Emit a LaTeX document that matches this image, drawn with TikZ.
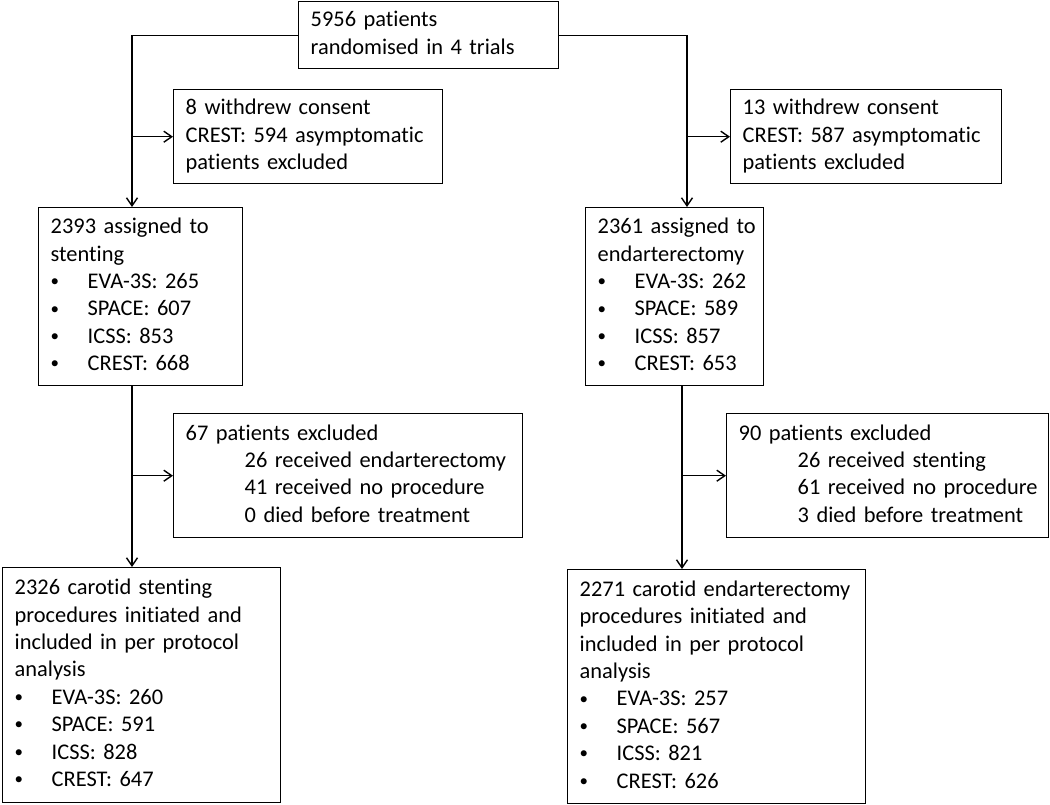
\documentclass[tikz,border=0pt]{standalone}
\usepackage{fontspec}
\setmainfont{Carlito}[Ligatures=NoCommon]
\usetikzlibrary{arrows.meta}

\newcommand{\boxlines}[1]{\begin{tabular}{@{}l@{}}#1\end{tabular}}
\newcommand{\bitem}[1]{\makebox[18.5pt][l]{\raisebox{0.9pt}{\fontsize{8.5}{8.5}\selectfont\textbullet}}#1}
\newcommand{\subline}{\hspace*{29.5pt}}

\begin{document}
\begin{tikzpicture}[x=0.5pt, y=-0.5pt,
  box/.style={draw, line width=0.7pt, anchor=north west, align=left,
    inner xsep=6pt, inner ysep=0pt, font=\fontsize{11.2}{13.7}\selectfont},
  arr/.style={-{Straight Barb[length=4pt, width=5.5pt]}, line width=0.7pt}]
  \useasboundingbox (0,0) rectangle (1050,804);

  \node[box, text width=118pt, minimum height=33.5pt] (rand) at (298,1)
    {\boxlines{5956 patients\\randomised in 4 trials}};
  \node[box, text width=122.5pt, minimum height=47pt] (wl) at (173,89)
    {\boxlines{8 withdrew consent\\CREST: 594 asymptomatic\\patients excluded}};
  \node[box, text width=123.5pt, minimum height=47pt] (wr) at (730,89)
    {\boxlines{13 withdrew consent\\CREST: 587 asymptomatic\\patients excluded}};

  \node[box, text width=90pt, minimum height=89pt] (sten) at (38,207)
    {\boxlines{2393 assigned to\\stenting\\\bitem{EVA-3S: 265}\\\bitem{SPACE: 607}\\
     \bitem{ICSS: 853}\\\bitem{CREST: 668}}};
  \node[box, text width=77pt, minimum height=89pt] (endo) at (585,207)
    {\boxlines{2361 assigned to\\endarterectomy\\\bitem{EVA-3S: 262}\\\bitem{SPACE: 589}\\
     \bitem{ICSS: 857}\\\bitem{CREST: 653}}};

  \node[box, text width=162.5pt, minimum height=62pt] (xl) at (173,413)
    {\boxlines{67 patients excluded\\\subline 26 received endarterectomy\\
     \subline 41 received no procedure\\\subline 0 died before treatment}};
  \node[box, text width=149pt, minimum height=62pt] (xr) at (726,413)
    {\boxlines{90 patients excluded\\\subline 26 received stenting\\
     \subline 61 received no procedure\\\subline 3 died before treatment}};

  \node[box, text width=127pt, minimum height=117.5pt] (cs) at (2,567)
    {\boxlines{2326 carotid stenting\\procedures initiated and\\included in per protocol\\analysis\\
     \bitem{EVA-3S: 260}\\\bitem{SPACE: 591}\\\bitem{ICSS: 828}\\\bitem{CREST: 647}}};
  \node[box, text width=137pt, minimum height=117pt] (ce) at (567,569)
    {\boxlines{2271 carotid endarterectomy\\procedures initiated and\\included in per protocol\\analysis\\
     \bitem{EVA-3S: 257}\\\bitem{SPACE: 567}\\\bitem{ICSS: 821}\\\bitem{CREST: 626}}};

  \coordinate (lx) at (132,0);
  \coordinate (rx) at (687,0);
  \coordinate (rlx) at (682,0);

  \draw[arr] (rand.west) -| (lx |- sten.north);
  \draw[arr] (lx |- wl.west) -- (wl.west);
  \draw[arr] (rand.east) -| (rx |- endo.north);
  \draw[arr] (rx |- wr.west) -- (wr.west);
  \draw[arr] (lx |- sten.south) -- (lx |- cs.north);
  \draw[arr] (lx |- xl.west) -- (xl.west);
  \draw[arr] (rlx |- endo.south) -- (rlx |- ce.north);
  \draw[arr] (rlx |- xr.west) -- (xr.west);
\end{tikzpicture}
\end{document}
